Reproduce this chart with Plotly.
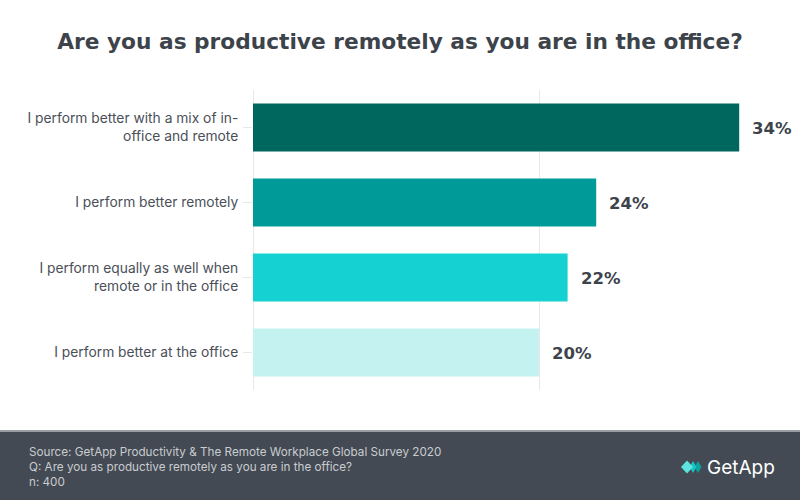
import plotly.graph_objects as go

categories = [
    "I perform better with a mix of in-<br>office and remote",
    "I perform better remotely",
    "I perform equally as well when<br>remote or in the office",
    "I perform better at the office",
]
values = [34, 24, 22, 20]
bar_colors = ["#00675f", "#009b98", "#16d1d1", "#c4f2f0"]

title_text = "Are you as productive remotely as you are in the office?"
footer_lines = [
    "Source: GetApp Productivity &amp; The Remote Workplace Global Survey 2020",
    "Q: Are you as productive remotely as you are in the office?",
    "n: 400",
]

FONT = "Inter, Open Sans, sans-serif"
BOLD = "DejaVu Sans, sans-serif"

fig = go.Figure()
fig.add_trace(go.Bar(
    x=values, y=categories, orientation="h",
    marker=dict(color=bar_colors, line=dict(width=0)),
    hoverinfo="skip", showlegend=False,
))

for v, c in zip(values, categories):
    fig.add_annotation(
        x=v, y=c, xref="x", yref="y", text=f"<b>{v}%</b>",
        showarrow=False, xanchor="left", xshift=11, yshift=-1,
        font=dict(family=BOLD, size=16.5, color="#3d434b"),
    )

def px(xp, yp):
    return (xp - 253) / 547, (390 - yp) / 300

# footer band
fig.add_shape(type="rect", xref="paper", yref="paper",
              x0=-1, x1=1.2, y0=-0.4, y1=px(0, 430)[1],
              fillcolor="#434a53", line=dict(width=0), layer="below")
fig.add_shape(type="rect", xref="paper", yref="paper",
              x0=-1, x1=1.2, y0=px(0, 430)[1], y1=px(0, 432)[1],
              fillcolor="#9a9ea3", line=dict(width=0), layer="below")

fx, fy = px(27, 443)
fig.add_annotation(
    xref="paper", yref="paper", x=fx, y=fy,
    xanchor="left", yanchor="top", align="left", showarrow=False,
    text="<br>".join(footer_lines),
    font=dict(family=FONT, size=11.7, color="#c9ccd0"),
)

# GetApp logo
lx, ly = px(705, 467)
fig.add_annotation(
    xref="paper", yref="paper", x=lx, y=ly,
    xanchor="left", yanchor="middle", showarrow=False,
    text="GetApp",
    font=dict(family=FONT, size=19, color="#ffffff"),
)

def diamond(cx, cy, w, h, color):
    pts = [px(cx - w, cy), px(cx, cy - h), px(cx + w, cy), px(cx, cy + h)]
    path = "M " + " L ".join(f"{a},{b}" for a, b in pts) + " Z"
    fig.add_shape(type="path", xref="paper", yref="paper", path=path,
                  fillcolor=color, line=dict(width=0))

diamond(698, 467, 3.5, 6, "#0aa3a0")
diamond(693, 467, 3.5, 6, "#16c6c6")
diamond(687, 467, 6, 6.5, "#5fe3e0")

fig.update_layout(
    width=800, height=500,
    margin=dict(l=253, r=0, t=90, b=110),
    paper_bgcolor="#ffffff", plot_bgcolor="#ffffff",
    bargap=0.36,
    title=dict(
        text=f"<b>{title_text}</b>", x=0.5, xref="container", xanchor="center",
        y=1 - 41 / 500, yref="container", yanchor="middle",
        font=dict(family=BOLD, size=21.7, color="#3d434b"),
    ),
    xaxis=dict(
        range=[0, 547 / 14.3], dtick=20, showticklabels=False,
        showgrid=True, gridcolor="#e8e8e8", gridwidth=1,
        zeroline=True, zerolinecolor="#e8e8e8", zerolinewidth=1,
        fixedrange=True,
    ),
    yaxis=dict(
        autorange="reversed", ticks="outside", ticklen=9, tickcolor="#e8e8e8",
        tickfont=dict(family=FONT, size=13.8, color="#4a4f58"),
        ticklabelstandoff=2,
        showline=False, fixedrange=True,
    ),
)

fig.write_html(
    "out.html",
    config={"displayModeBar": False},
    post_script="document.body.style.margin='0';document.body.style.overflow='hidden';",
)
